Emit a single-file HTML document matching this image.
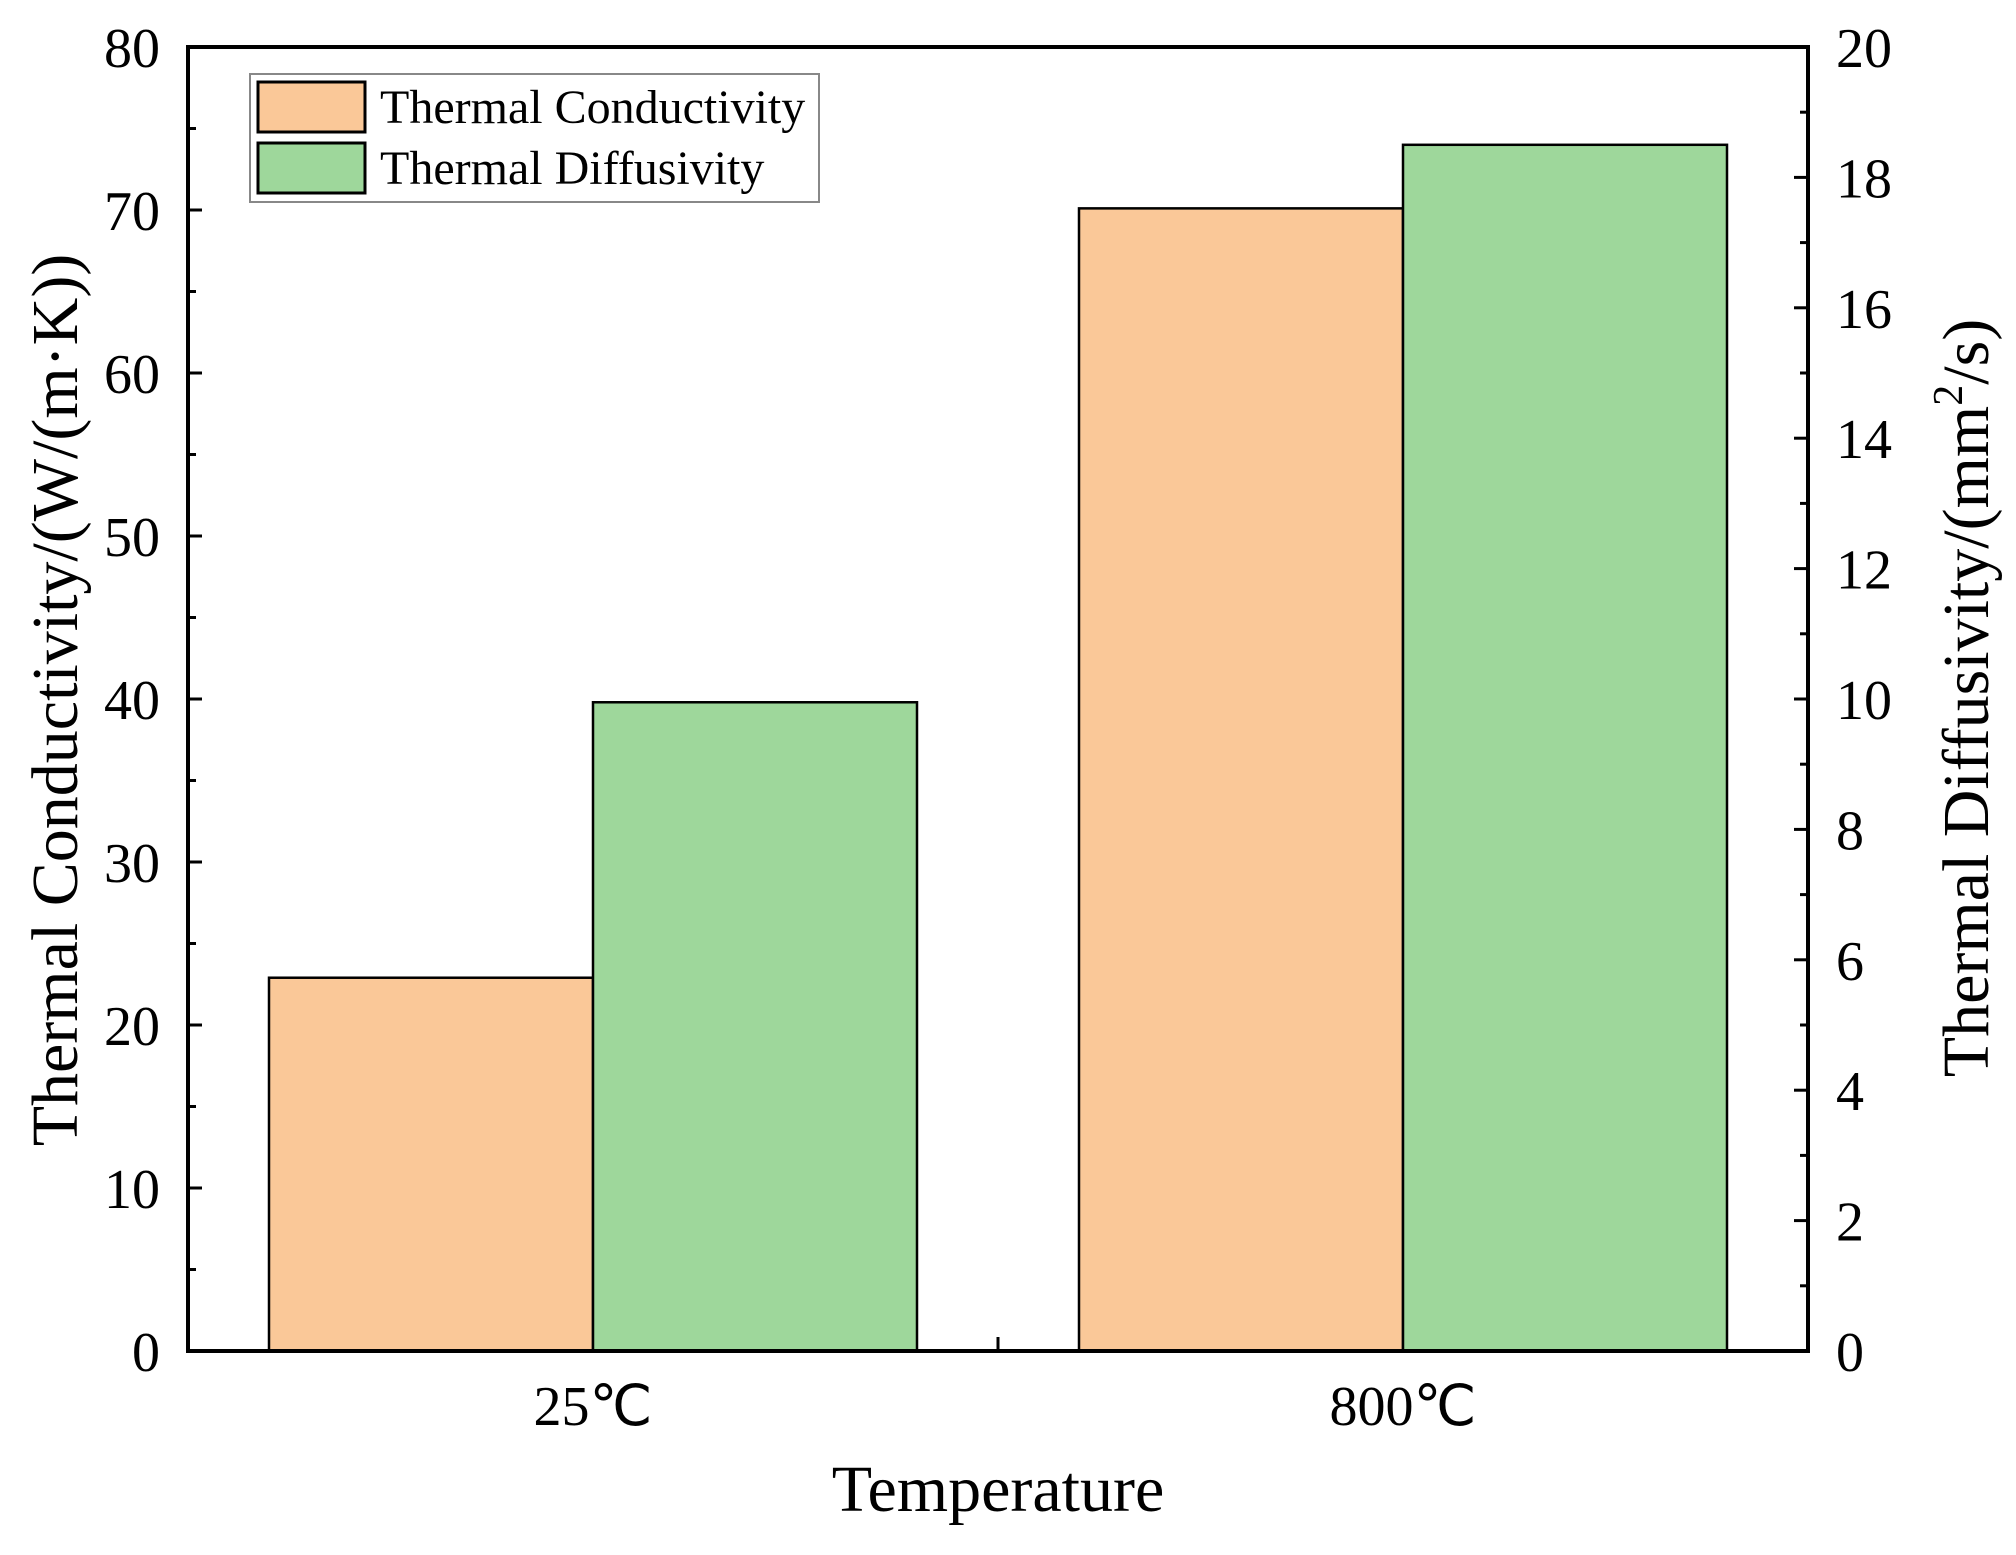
<!DOCTYPE html>
<html><head><meta charset="utf-8"><style>
body{margin:0;background:#fff;}
svg text{font-family:"Liberation Serif",serif;fill:#000;}
</style></head><body>
<svg id="chart" width="2016" height="1550" viewBox="0 0 2016 1550" xmlns="http://www.w3.org/2000/svg">
<g id="bars"></g>
<g id="axes"></g>
<g>
<rect x="250" y="74" width="569" height="128" fill="#fff" stroke="#888" stroke-width="2"/>
<rect x="258" y="82" width="107" height="50" fill="#FAC898" stroke="#000" stroke-width="3"/>
<text x="380" y="123" font-size="48">Thermal Conductivity</text>
<rect x="258" y="143" width="107" height="50" fill="#9ED79B" stroke="#000" stroke-width="3"/>
<text x="380" y="184" font-size="48">Thermal Diffusivity</text>
</g>
<text x="998" y="1511" font-size="66" text-anchor="middle">Temperature</text>
<text transform="translate(77,700) rotate(-90)" font-size="66" text-anchor="middle">Thermal Conductivity/(W/(m·K))</text>
<text transform="translate(1988,698) rotate(-90)" font-size="66" text-anchor="middle">Thermal Diffusivity/(mm<tspan font-size="42" dy="-26">2</tspan><tspan dy="26">/s)</tspan></text>
</svg>
<script>
const categories = ["25℃", "800℃"];
const conductivity = [22.9, 70.1];
const diffusivity = [9.95, 18.5];
const leftTicks = [0,10,20,30,40,50,60,70,80];
const rightTicks = [0,2,4,6,8,10,12,14,16,18,20];

const L=188, R=1808, T=47, B=1351;
const NS="http://www.w3.org/2000/svg";
const yL=v=>B-(v/80)*(B-T);
const yR=v=>B-(v/20)*(B-T);
const xC=i=>L+(R-L)*(i*2+1)/(categories.length*2);
const bw=(R-L)*0.2;
function mk(tag,attrs,parent){const e=document.createElementNS(NS,tag);for(const k in attrs)e.setAttribute(k,attrs[k]);parent.appendChild(e);return e;}
const bars=document.getElementById('bars'), axes=document.getElementById('axes');
categories.forEach((c,i)=>{
  const x=xC(i);
  const b1=mk('rect',{x:x-bw,y:yL(conductivity[i]),width:bw,height:B-yL(conductivity[i]),fill:'#FAC898',stroke:'#000','stroke-width':2.5},bars);
  
  
  const b2=mk('rect',{x:x,y:yR(diffusivity[i]),width:bw,height:B-yR(diffusivity[i]),fill:'#9ED79B',stroke:'#000','stroke-width':2.5},bars);
  
  
  const t=mk('text',{x:x,y:1425,'font-size':56,'text-anchor':'middle'},axes);
  t.textContent=c;
  
  
});
const frame=mk('rect',{x:L,y:T,width:R-L,height:B-T,fill:'none',stroke:'#000','stroke-width':4},axes);


// bottom middle tick
const mt=mk('line',{x1:(L+R)/2,x2:(L+R)/2,y1:B,y2:B-14,stroke:'#000','stroke-width':3},axes);


leftTicks.forEach((v,i)=>{
  const y=yL(v);
  const tk=mk('line',{x1:L,x2:L+14,y1:y,y2:y,stroke:'#000','stroke-width':3},axes);
  
  
  if(i<leftTicks.length-1){const ym=yL(v+5);
    const mn=mk('line',{x1:L,x2:L+8,y1:ym,y2:ym,stroke:'#000','stroke-width':3},axes);
    
    }
  const t=mk('text',{x:160,y:y+20,'font-size':56,'text-anchor':'end'},axes);
  t.textContent=v;
  
  
});
rightTicks.forEach((v,i)=>{
  const y=yR(v);
  const tk=mk('line',{x1:R,x2:R-14,y1:y,y2:y,stroke:'#000','stroke-width':3},axes);
  
  
  if(i<rightTicks.length-1){const ym=yR(v+1);
    const mn=mk('line',{x1:R,x2:R-8,y1:ym,y2:ym,stroke:'#000','stroke-width':3},axes);
    
    }
  const t=mk('text',{x:1836,y:y+20,'font-size':56,'text-anchor':'start'},axes);
  t.textContent=v;
  
  
});
</script>
</body></html>
